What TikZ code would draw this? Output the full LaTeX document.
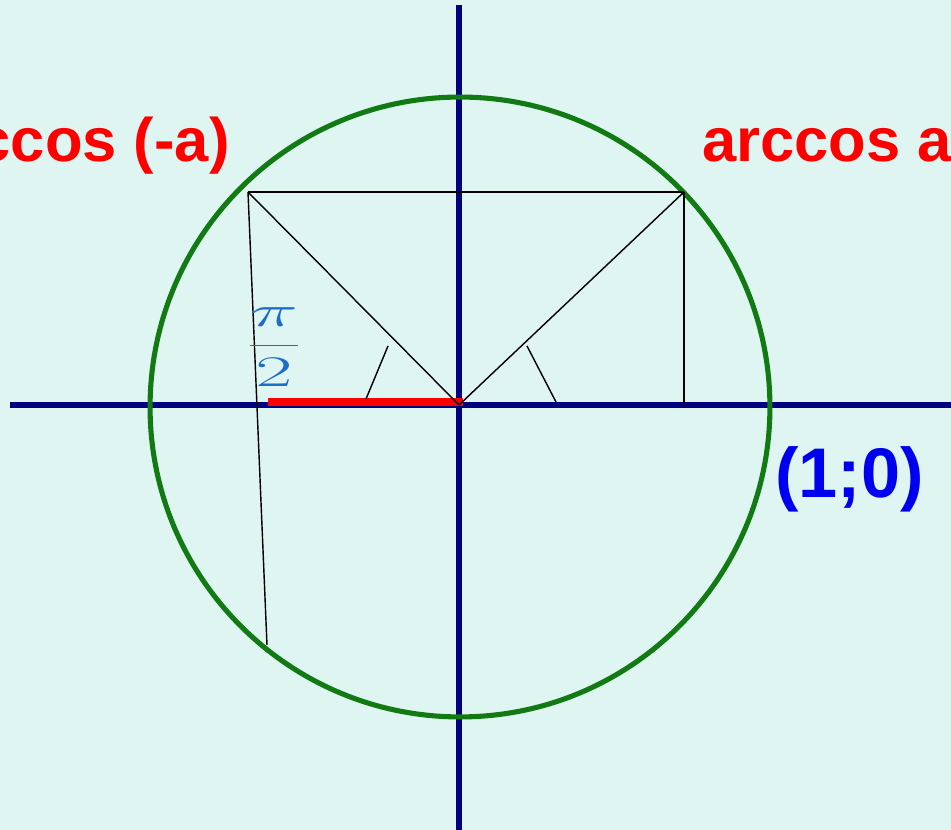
\documentclass[tikz,border=0pt]{standalone}
\usepackage{fontspec}
\setsansfont{Liberation Sans}
\definecolor{bgmint}{RGB}{222,245,241}
\definecolor{axisnavy}{RGB}{0,0,128}
\definecolor{circgreen}{RGB}{18,122,18}
\definecolor{fracblue}{RGB}{30,110,200}
\definecolor{ptblue}{RGB}{0,0,240}
\begin{document}
\begin{tikzpicture}[x=0.02cm, y=-0.02cm,
  axis/.style={draw=axisnavy, line width=3pt},
  circ/.style={draw=circgreen, line width=2.9pt},
  seg/.style={draw=black, line width=0.8pt},
  arclbl/.style={text=red, font=\sffamily\bfseries\fontsize{35}{40}\selectfont, inner sep=0pt}
]
\useasboundingbox (0,0) rectangle (951,830);
\clip (0,0) rectangle (951,830);
\fill[bgmint] (0,0) rectangle (951,830);

\coordinate (O)  at (459,405);
\coordinate (M)  at (460,407);
\coordinate (xl) at (10,405);
\coordinate (xr) at (951,405);
\coordinate (yt) at (459,5);
\coordinate (yb) at (459,830);
\coordinate (A)  at (684,192);
\coordinate (B)  at (248,192);
\coordinate (C)  at (684,405);
\coordinate (D)  at (267,645);
\coordinate (E)  at (268,402);
\coordinate (F)  at (463,402);
\coordinate (L1) at (366,399);
\coordinate (L2) at (388,346);
\coordinate (R1) at (527,346);
\coordinate (R2) at (556,402);

\draw[axis] (xl) -- (xr);
\draw[axis] (yt) -- (yb);
\draw[circ] (M) circle[radius=6.2cm];

\draw[red, line width=4.5pt] (E) -- (F);

\draw[seg] (B) -- (A);
\draw[seg] (A) -- (C);
\draw[seg] (O) -- (A);
\draw[seg] (O) -- (B);
\draw[seg] (B) -- (D);
\draw[seg] (L1) -- (L2);
\draw[seg] (R1) -- (R2);

\node[arclbl, anchor=base east] (acneg) at (230,162) {arccos (-a)};
\node[arclbl, anchor=base west] (acpos) at (702,162) {arccos a};
\node[text=fracblue, font=\sffamily\bfseries\fontsize{40}{46}\selectfont, inner sep=0pt, anchor=base west, text=ptblue] (pt) at (775,498) {(1;0)};
\node[text=fracblue, inner sep=0pt] (half) at (274,347) {\scalebox{1.85}[1]{\fontsize{29}{32}\selectfont$\displaystyle\frac{\pi}{2}$}};
\end{tikzpicture}
\end{document}
